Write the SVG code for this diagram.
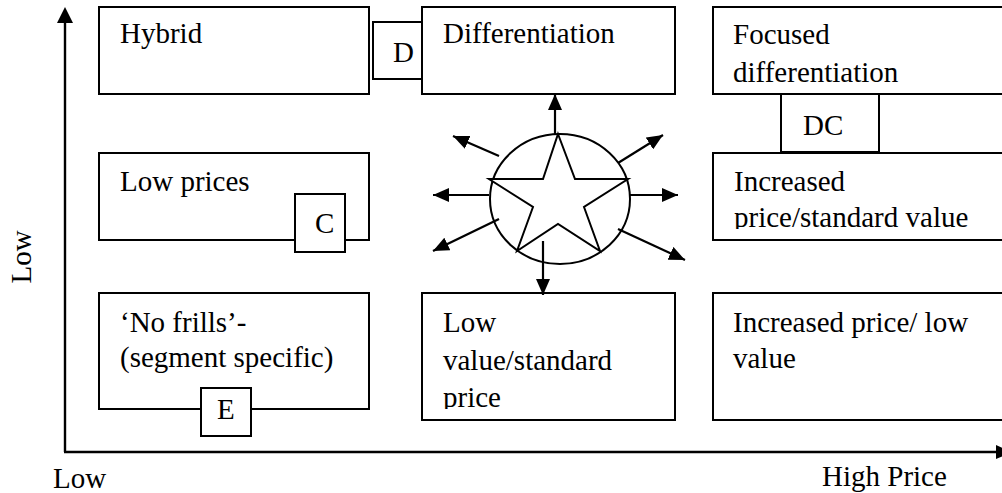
<svg xmlns="http://www.w3.org/2000/svg" width="1002" height="493" viewBox="0 0 1002 493">
<style>
.box{fill:#fff;stroke:#000;stroke-width:2}
.tag{fill:#fff;stroke:#000;stroke-width:2}
.t{font-family:"Liberation Serif","Times New Roman",serif;font-size:29px;fill:#000}
.ax{stroke:#000;stroke-width:2.4;fill:none}
.ar{stroke:#000;stroke-width:2.2;fill:none;marker-end:url(#ah)}
</style>
<defs>
<marker id="ah" markerUnits="userSpaceOnUse" markerWidth="16" markerHeight="14" refX="16" refY="7" orient="auto">
<path d="M0,0 L16,7 L0,14 Z" fill="#000"/>
</marker>
<clipPath id="clipA"><rect x="700" y="150" width="310" height="79"/></clipPath>
<clipPath id="clipB"><rect x="420" y="290" width="260" height="119"/></clipPath>
</defs>

<g id="axes">
<line class="ax" x1="65" y1="452" x2="65" y2="20"/>
<path d="M65,7 L57,23 L73,23 Z" fill="#000"/>
<line class="ax" x1="64" y1="452" x2="998" y2="452"/>
<path d="M1012,452 L996,445 L996,459 Z" fill="#000"/>
<text class="t" x="53" y="488">Low</text>
<text class="t" x="822" y="486">High Price</text>
<text class="t" transform="translate(31,257) rotate(-90)" text-anchor="middle">Low</text>
</g>

<g id="hybrid">
<rect class="box" x="99" y="7" width="270" height="87"/>
<text class="t" x="120" y="43">Hybrid</text>
</g>
<g id="tag-d">
<rect class="tag" x="373" y="22" width="49" height="57"/>
<text class="t" x="393" y="62">D</text>
</g>
<g id="differentiation">
<rect class="box" x="422" y="7" width="253" height="87"/>
<text class="t" x="443" y="43">Differentiation</text>
</g>
<g id="focused-differentiation">
<rect class="box" x="713" y="7" width="300" height="87"/>
<text class="t" x="733" y="44">Focused</text>
<text class="t" x="733" y="82">differentiation</text>
</g>
<g id="tag-dc">
<rect class="tag" x="781" y="94" width="98" height="58"/>
<text class="t" x="803" y="135">DC</text>
</g>

<g id="low-prices">
<rect class="box" x="99" y="153" width="270" height="87"/>
<text class="t" x="120" y="191">Low prices</text>
</g>
<g id="tag-c">
<rect class="tag" x="295" y="194" width="50" height="58"/>
<text class="t" x="315" y="233">C</text>
</g>
<g id="increased-standard">
<rect class="box" x="713" y="153" width="300" height="87"/>
<text class="t" x="734" y="191">Increased</text>
<text class="t" x="734" y="227" clip-path="url(#clipA)">price/standard value</text>
</g>

<g id="no-frills">
<rect class="box" x="99" y="293" width="270" height="116"/>
<text class="t" x="120" y="332">‘No frills’-</text>
<text class="t" x="120" y="367">(segment specific)</text>
</g>
<g id="tag-e">
<rect class="tag" x="201" y="388" width="50" height="48"/>
<text class="t" x="217" y="419">E</text>
</g>
<g id="low-value">
<rect class="box" x="422" y="293" width="253" height="127"/>
<text class="t" x="443" y="332">Low</text>
<text class="t" x="443" y="370">value/standard</text>
<text class="t" x="443" y="407" clip-path="url(#clipB)">price</text>
</g>
<g id="increased-low">
<rect class="box" x="713" y="293" width="300" height="127"/>
<text class="t" x="733" y="332">Increased price/ low</text>
<text class="t" x="733" y="368">value</text>
</g>

<g id="star">
<ellipse cx="560" cy="199" rx="70" ry="65" fill="#fff" stroke="#000" stroke-width="2"/>
<path d="M558,134 L575,179 L628,179 L584,207 L600,251 L558,224 L517,251 L533,207 L489,179 L543,179 Z" fill="#fff" stroke="#000" stroke-width="2" stroke-linejoin="miter"/>
</g>

<g id="connectors">
<line class="ar" x1="555" y1="134" x2="555" y2="94"/>
<line class="ar" x1="543" y1="241" x2="543" y2="295"/>
<line class="ar" x1="489" y1="195" x2="433" y2="195"/>
<line class="ar" x1="630" y1="195" x2="678" y2="195"/>
<line class="ar" x1="499" y1="156" x2="453" y2="136"/>
<line class="ar" x1="618" y1="163" x2="663" y2="135"/>
<line class="ar" x1="499" y1="219" x2="433" y2="251"/>
<line class="ar" x1="618" y1="229" x2="685" y2="260"/>
</g>
</svg>
